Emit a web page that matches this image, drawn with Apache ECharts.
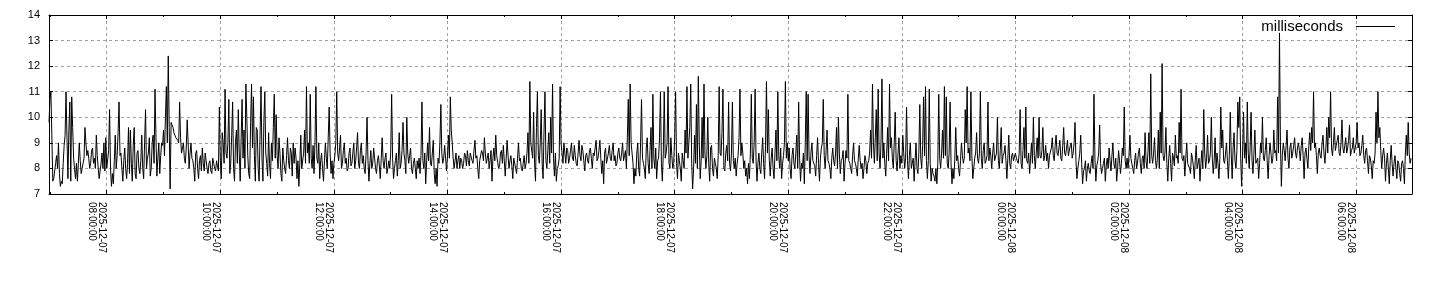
<!DOCTYPE html>
<html><head><meta charset="utf-8">
<script src="https://cdn.jsdelivr.net/npm/echarts@6/dist/echarts.min.js"></script>
<style>html,body{margin:0;padding:0;background:#fff}#c{width:1440px;height:300px}</style>
</head><body><div id="c"></div>
<script>
const seriesName = 'milliseconds';
const startHour = 6 + 59 / 60;   // 2025-12-07 06:59
const stepMinutes = 1;
const spanHours = 24;
const xTickLabels = [
  '2025-12-07\n08:00:00','2025-12-07\n10:00:00','2025-12-07\n12:00:00','2025-12-07\n14:00:00',
  '2025-12-07\n16:00:00','2025-12-07\n18:00:00','2025-12-07\n20:00:00','2025-12-07\n22:00:00',
  '2025-12-08\n00:00:00','2025-12-08\n02:00:00','2025-12-08\n04:00:00','2025-12-08\n06:00:00'
];
const yMin = 7, yMax = 14;

// values per hour: even minutes (hN) and odd minutes (oN)
const h0 = [9.8, 11.0, 7.5, 7.9, 8.5, 9.0, 7.3, 7.4, 8.9, 11.0, 7.6, 10.6, 10.8, 8.4, 7.6, 7.5, 9.0, 7.8, 8.0, 9.6, 8.5, 8.4, 8.2, 8.8, 8.4, 9.3, 8.0, 7.6, 8.6, 9.0];
const o0 = [10.7, 9.3, 7.6, 8.2, 8.0, 7.8, 7.5, 8.2, 9.3, 9.2, 9.5, 7.5, 9.6, 8.0, 8.2, 8.2, 8.3, 8.0, 8.4, 9.0, 8.7, 8.0, 8.7, 8.2, 8.0, 8.5, 7.6, 8.2, 8.0, 7.9];
const h1 = [9.2, 8.0, 10.3, 7.3, 7.4, 9.3, 8.5, 10.6, 8.6, 7.5, 8.8, 7.6, 9.6, 9.5, 7.5, 9.6, 7.6, 8.7, 7.8, 9.3, 7.6, 10.3, 8.4, 9.2, 8.0, 9.3, 11.1, 7.7, 9.0, 8.5];
const o1 = [8.0, 8.7, 8.0, 7.8, 8.3, 8.0, 9.4, 8.5, 8.0, 8.3, 8.0, 8.2, 7.8, 8.2, 8.9, 7.8, 8.6, 8.0, 8.3, 8.0, 9.0, 8.0, 8.6, 7.7, 9.0, 8.2, 9.2, 8.4, 7.8, 9.0];
const h2 = [8.9, 8.5, 11.2, 12.4, 7.2, 9.7, 9.4, 9.2, 9.1, 10.6, 8.6, 9.0, 8.2, 9.9, 8.0, 9.0, 8.3, 7.5, 8.7, 7.6, 8.5, 8.8, 7.9, 8.6, 7.8, 8.3, 7.8, 8.2, 7.9, 8.1];
const o2 = [9.5, 10.0, 9.0, 9.6, 9.8, 9.6, 9.3, 9.2, 9.0, 9.2, 8.8, 8.4, 8.8, 9.0, 8.6, 8.4, 8.0, 8.6, 8.0, 8.3, 7.9, 8.2, 8.6, 8.0, 8.2, 7.9, 8.4, 8.0, 8.3, 7.9];
const h3 = [10.4, 7.6, 9.0, 11.1, 8.4, 10.7, 8.2, 10.6, 7.5, 9.5, 10.3, 7.5, 10.7, 9.5, 11.3, 8.5, 7.6, 11.3, 10.8, 7.5, 9.5, 7.5, 11.2, 7.5, 11.0, 8.2, 9.4, 7.6, 8.3, 10.9];
const o3 = [8.3, 9.4, 8.2, 8.6, 9.0, 7.8, 9.3, 8.0, 9.0, 8.2, 8.6, 9.2, 8.4, 8.0, 10.0, 7.8, 9.8, 8.8, 8.5, 9.6, 8.0, 9.3, 8.4, 9.8, 8.6, 7.7, 8.2, 9.0, 9.6, 8.4];
const h4 = [10.1, 8.0, 8.6, 7.5, 8.3, 7.8, 9.2, 8.0, 8.6, 9.0, 8.8, 7.6, 7.3, 9.3, 8.0, 9.5, 11.2, 9.0, 10.9, 8.0, 7.8, 11.2, 8.2, 7.6, 8.6, 7.5, 9.0, 8.0, 10.4, 7.8];
const o4 = [8.5, 9.2, 7.8, 8.8, 8.0, 8.5, 8.3, 8.8, 7.7, 8.2, 8.4, 8.3, 8.2, 8.0, 8.6, 8.2, 8.6, 8.2, 8.4, 8.9, 9.0, 8.4, 9.0, 8.3, 8.0, 8.3, 8.4, 9.2, 8.6, 8.3];
const h5 = [7.6, 8.5, 11.0, 8.3, 9.3, 8.2, 9.0, 8.4, 8.0, 8.8, 8.2, 9.0, 8.3, 9.4, 8.0, 9.0, 8.5, 7.8, 10.0, 7.5, 8.7, 8.2, 8.4, 7.8, 8.5, 7.6, 9.2, 8.0, 8.6, 8.0];
const o5 = [8.2, 9.0, 8.6, 8.8, 8.0, 8.7, 8.2, 7.9, 8.6, 8.1, 8.6, 8.0, 8.8, 8.2, 8.7, 8.2, 8.0, 8.6, 8.3, 8.2, 8.0, 8.8, 8.0, 8.3, 8.1, 8.4, 8.3, 8.4, 7.8, 8.3];
const h6 = [8.0, 10.9, 7.6, 8.3, 7.7, 9.4, 8.2, 9.8, 8.3, 10.0, 8.2, 8.8, 7.8, 8.4, 7.6, 8.0, 7.8, 10.6, 8.0, 7.4, 9.0, 9.6, 8.1, 9.1, 7.4, 7.3, 8.2, 10.5, 8.2, 8.9];
const o6 = [8.6, 8.4, 8.0, 8.6, 8.3, 8.0, 8.7, 8.6, 7.8, 8.6, 8.5, 8.0, 8.2, 8.0, 8.3, 8.4, 8.5, 8.3, 8.6, 8.3, 8.3, 8.2, 8.6, 7.8, 8.0, 8.4, 9.0, 8.6, 8.4, 8.4];
const h7 = [7.9, 9.3, 10.8, 9.0, 8.0, 8.6, 8.3, 8.0, 8.3, 8.2, 8.5, 8.7, 8.1, 8.6, 8.2, 9.1, 8.5, 7.6, 8.3, 8.6, 9.2, 8.2, 8.6, 8.3, 7.5, 8.8, 9.3, 8.5, 8.1, 8.7];
const o7 = [8.5, 8.4, 9.5, 8.4, 8.3, 8.0, 8.5, 8.4, 8.0, 8.6, 8.1, 8.3, 8.6, 8.3, 8.7, 8.4, 8.0, 8.3, 8.7, 8.3, 8.6, 8.4, 8.0, 8.7, 8.4, 8.3, 8.5, 8.0, 8.6, 8.2];
const h8 = [8.9, 7.7, 9.1, 8.0, 8.5, 7.6, 8.2, 7.8, 9.0, 8.4, 7.9, 8.5, 8.2, 9.4, 11.4, 9.0, 10.2, 7.5, 11.0, 8.2, 10.3, 7.6, 11.0, 8.0, 9.4, 10.0, 11.3, 7.7, 7.5, 8.1];
const o8 = [8.3, 8.4, 8.5, 8.3, 8.1, 8.4, 8.0, 8.4, 8.3, 8.0, 8.2, 8.0, 8.6, 8.2, 9.0, 8.4, 8.2, 9.6, 8.5, 9.0, 8.2, 9.5, 8.3, 8.7, 8.2, 8.6, 8.4, 8.6, 8.0, 8.4];
const h9 = [11.2, 8.6, 9.0, 8.2, 8.7, 8.4, 9.0, 8.3, 8.5, 8.1, 9.1, 8.3, 8.7, 7.9, 8.6, 8.2, 8.8, 8.0, 8.5, 9.1, 8.4, 9.1, 7.8, 7.4, 8.8, 8.2, 8.9, 8.3, 9.0, 8.5];
const o9 = [9.0, 8.2, 8.6, 8.8, 8.2, 8.7, 8.4, 8.9, 8.2, 8.6, 8.5, 8.9, 8.3, 8.5, 8.3, 8.7, 8.4, 8.6, 8.8, 8.3, 8.7, 8.4, 8.3, 8.6, 8.2, 8.6, 8.4, 8.7, 8.3, 8.1];
const h10 = [8.2, 8.8, 8.3, 9.0, 8.5, 8.0, 10.7, 11.3, 9.0, 7.4, 7.7, 9.0, 7.7, 10.7, 8.2, 7.6, 9.2, 7.8, 9.6, 10.9, 8.0, 7.6, 8.4, 11.0, 7.5, 11.0, 8.6, 11.2, 8.0, 8.5];
const o10 = [8.6, 8.4, 8.6, 8.3, 8.7, 9.2, 8.5, 9.0, 8.2, 8.0, 8.6, 8.0, 9.0, 8.4, 8.0, 8.8, 8.2, 8.7, 8.0, 8.4, 8.8, 8.3, 9.2, 8.2, 8.6, 8.4, 9.0, 8.2, 9.2, 8.0];
const h11 = [8.2, 11.0, 7.6, 8.3, 7.5, 8.3, 9.5, 11.2, 9.0, 11.3, 7.2, 9.3, 10.5, 11.6, 7.6, 10.0, 11.3, 8.0, 10.0, 7.5, 8.9, 7.7, 8.2, 7.6, 11.2, 8.5, 11.1, 7.9, 8.9, 10.6];
const o11 = [9.2, 8.2, 8.6, 8.0, 8.6, 8.0, 8.6, 8.4, 9.6, 8.2, 8.0, 8.2, 8.0, 9.0, 8.3, 8.4, 8.6, 8.5, 8.2, 8.8, 8.0, 8.4, 8.0, 8.5, 8.6, 9.4, 8.0, 8.6, 8.3, 8.2];
const h12 = [7.9, 10.6, 8.0, 7.7, 8.5, 11.1, 9.0, 8.0, 7.7, 7.4, 7.6, 10.9, 8.2, 11.1, 7.5, 8.6, 7.8, 9.2, 7.6, 11.4, 10.3, 7.7, 8.8, 7.6, 9.5, 11.0, 8.0, 7.6, 8.5, 11.4];
const o12 = [8.6, 8.3, 8.4, 8.2, 9.2, 8.5, 8.6, 8.3, 8.0, 8.2, 8.6, 8.4, 9.0, 8.3, 8.2, 8.0, 8.6, 8.2, 8.9, 8.6, 8.3, 8.4, 8.0, 8.6, 8.3, 8.5, 8.8, 8.2, 9.0, 8.4];
const h13 = [9.0, 8.8, 7.6, 8.8, 8.0, 9.3, 10.6, 7.5, 8.0, 7.4, 11.0, 10.9, 7.8, 9.0, 8.3, 7.7, 9.2, 7.5, 8.8, 10.7, 8.0, 9.5, 8.2, 7.6, 8.8, 8.1, 9.6, 10.0, 7.8, 8.4];
const o13 = [8.3, 8.0, 8.5, 8.2, 8.6, 8.0, 8.4, 8.2, 8.6, 9.0, 8.3, 8.5, 8.6, 8.3, 8.1, 8.5, 8.2, 8.4, 9.0, 8.5, 8.7, 8.3, 8.0, 8.4, 8.3, 8.6, 8.0, 8.6, 8.3, 8.7];
const h14 = [7.5, 8.7, 10.9, 8.2, 7.8, 9.0, 8.2, 7.7, 8.9, 8.0, 7.6, 8.5, 7.8, 8.3, 9.5, 11.3, 8.2, 10.3, 11.1, 8.0, 11.5, 9.0, 7.7, 9.6, 11.3, 9.2, 8.0, 10.2, 7.9, 9.2];
const o14 = [8.2, 8.4, 8.3, 8.0, 8.5, 8.3, 8.0, 8.4, 8.3, 8.2, 8.0, 8.3, 8.2, 8.6, 8.4, 9.0, 9.2, 8.3, 8.6, 9.0, 8.4, 8.2, 8.6, 8.3, 8.8, 8.4, 9.0, 8.3, 8.6, 8.0];
const h15 = [8.5, 9.3, 8.0, 10.4, 7.6, 9.0, 8.2, 7.5, 9.0, 7.8, 10.5, 8.0, 10.8, 11.2, 7.6, 11.1, 7.5, 7.8, 7.5, 7.4, 10.9, 8.0, 9.5, 11.2, 10.8, 8.0, 10.6, 7.4, 7.6, 9.6];
const o15 = [8.2, 8.6, 8.4, 8.3, 8.5, 8.0, 8.4, 8.3, 8.0, 8.6, 8.4, 8.9, 8.5, 8.3, 8.3, 8.2, 8.0, 7.7, 8.0, 8.2, 8.4, 8.6, 8.4, 8.5, 8.2, 8.6, 8.2, 8.0, 8.4, 8.3];
const h16 = [8.5, 7.7, 9.0, 8.2, 10.3, 11.2, 8.8, 11.0, 7.6, 8.4, 9.4, 8.2, 11.0, 8.0, 9.0, 8.3, 10.6, 8.8, 8.0, 9.0, 8.3, 10.0, 8.0, 9.6, 8.5, 8.9, 7.6, 9.3, 8.0, 8.6];
const o16 = [8.0, 8.3, 8.5, 8.4, 9.0, 8.6, 8.3, 8.5, 8.0, 8.6, 8.4, 8.6, 8.4, 8.7, 8.2, 8.5, 8.3, 8.5, 8.6, 8.3, 8.6, 8.3, 8.7, 8.2, 8.6, 8.3, 8.4, 8.2, 8.5, 8.3];
const h17 = [8.3, 8.4, 8.2, 10.3, 8.0, 9.6, 10.4, 8.2, 7.8, 9.0, 10.0, 8.0, 9.2, 10.0, 8.4, 9.6, 8.5, 8.3, 8.0, 8.5, 9.2, 8.3, 9.3, 8.5, 9.1, 8.3, 9.6, 8.5, 9.1, 8.7];
const o17 = [8.6, 8.3, 8.6, 8.2, 8.7, 8.4, 8.3, 8.6, 8.4, 8.2, 8.5, 8.6, 8.4, 8.5, 8.7, 8.3, 8.9, 8.6, 8.5, 8.8, 8.5, 8.9, 8.6, 8.8, 8.4, 8.9, 8.6, 8.8, 8.5, 8.9];
const h18 = [9.0, 8.6, 9.8, 7.6, 8.3, 9.3, 7.4, 8.0, 7.5, 8.2, 7.8, 8.5, 10.9, 7.5, 8.3, 9.7, 7.8, 8.2, 7.5, 8.4, 8.8, 7.9, 9.0, 8.0, 7.5, 8.7, 7.8, 8.8, 10.4, 8.0];
const o18 = [8.4, 9.0, 8.3, 8.0, 8.6, 8.2, 7.9, 8.3, 8.0, 7.9, 8.2, 8.0, 8.4, 8.1, 8.6, 8.2, 8.0, 8.4, 8.1, 8.0, 8.3, 8.5, 8.2, 8.4, 8.0, 8.3, 8.2, 8.5, 8.3, 8.4];
const h19 = [8.0, 9.3, 8.2, 7.8, 8.6, 8.2, 8.8, 7.8, 8.5, 9.4, 8.0, 9.4, 11.7, 8.2, 9.2, 8.0, 9.5, 10.2, 12.1, 8.3, 9.6, 7.5, 8.9, 7.5, 8.4, 9.3, 8.5, 9.8, 11.1, 8.3];
const o19 = [8.5, 8.4, 8.0, 8.3, 8.0, 8.6, 8.2, 8.4, 8.0, 8.3, 8.6, 8.2, 8.5, 8.6, 8.3, 8.4, 8.0, 8.6, 8.5, 8.6, 8.2, 8.4, 8.2, 8.6, 8.1, 8.4, 8.2, 8.6, 8.4, 8.5];
const h20 = [7.7, 9.0, 8.2, 7.8, 8.4, 7.6, 8.9, 8.0, 7.5, 8.7, 10.3, 8.0, 9.3, 8.3, 10.0, 7.8, 9.2, 8.6, 7.6, 10.4, 9.5, 8.2, 9.0, 7.6, 10.2, 7.6, 9.4, 8.0, 10.6, 10.8];
const o20 = [8.4, 8.2, 8.0, 8.6, 8.1, 8.3, 8.0, 8.4, 8.2, 8.0, 8.6, 8.4, 8.2, 8.6, 8.4, 8.3, 8.0, 8.2, 8.4, 8.8, 8.3, 8.6, 8.3, 8.5, 8.6, 8.8, 8.3, 8.7, 9.6, 8.4];
const h21 = [7.3, 10.2, 9.0, 10.6, 8.0, 10.2, 7.8, 9.5, 8.2, 7.6, 9.0, 10.0, 8.3, 9.2, 7.6, 9.0, 8.2, 9.5, 8.7, 10.8, 13.3, 7.3, 9.0, 8.3, 9.5, 8.0, 9.0, 8.6, 9.2, 8.4];
const o21 = [8.6, 8.4, 8.2, 8.6, 8.8, 8.3, 8.6, 8.2, 8.4, 8.2, 8.6, 8.4, 8.7, 8.3, 8.5, 8.6, 8.4, 8.6, 8.3, 8.6, 9.0, 8.5, 8.7, 8.9, 8.4, 8.8, 8.4, 8.9, 8.6, 8.8];
const h22 = [9.0, 8.3, 9.2, 7.6, 8.8, 8.0, 9.4, 9.6, 11.0, 9.0, 7.8, 8.8, 8.4, 9.3, 8.2, 9.6, 10.0, 11.0, 8.5, 9.6, 8.9, 9.3, 8.5, 9.9, 8.6, 9.2, 8.8, 9.7, 8.7, 9.2];
const o22 = [8.7, 8.9, 8.5, 8.6, 8.4, 8.9, 8.7, 9.0, 8.8, 8.5, 8.6, 8.5, 9.0, 8.6, 8.8, 8.6, 9.2, 8.8, 9.0, 8.7, 9.1, 8.6, 9.0, 8.8, 8.9, 8.6, 9.1, 8.5, 8.8, 8.6];
const h23 = [8.6, 9.8, 9.0, 8.6, 9.3, 8.2, 8.8, 7.8, 8.4, 7.6, 8.2, 10.2, 11.0, 9.6, 8.0, 8.8, 7.5, 8.6, 7.4, 8.9, 7.7, 8.5, 7.6, 8.2, 7.5, 8.3, 7.4, 9.3, 9.8, 8.2];
const o23 = [9.0, 8.8, 8.5, 8.9, 8.5, 8.7, 8.3, 8.5, 8.1, 8.3, 8.6, 9.0, 9.2, 8.7, 8.5, 8.4, 8.2, 8.0, 8.3, 8.2, 8.2, 8.0, 8.3, 7.8, 8.2, 8.0, 8.6, 8.5, 8.6, 8.4];

const evenHours = [h0,h1,h2,h3,h4,h5,h6,h7,h8,h9,h10,h11,h12,h13,h14,h15,h16,h17,h18,h19,h20,h21,h22,h23];
const oddHours  = [o0,o1,o2,o3,o4,o5,o6,o7,o8,o9,o10,o11,o12,o13,o14,o15,o16,o17,o18,o19,o20,o21,o22,o23];
const values = [];
evenHours.forEach((hr, k) => hr.forEach((v, j) => { values.push(v, oddHours[k][j]); }));
const data = values.map((v, i) => [startHour + i * stepMinutes / 60, v]);
const xMin = startHour, xMax = startHour + spanHours;

const FONT = 'Liberation Sans';
function xLabel(v) {
  const k = Math.round((v - 8) / 2);
  if (Math.abs(v - (8 + 2 * k)) > 1e-6 || k < 0 || k >= xTickLabels.length) return '';
  return xTickLabels[k];
}
const frame = { show: true, onZero: false, lineStyle: { color: '#000', width: 1 } };
const tick = { show: true, inside: true, length: 4, lineStyle: { color: '#000', width: 1 } };
const minor = { show: true, splitNumber: 2, length: 2, lineStyle: { color: '#000', width: 1 } };
const grid = { show: true, showMinLine: false, showMaxLine: false, lineStyle: { color: '#a0a0a0', width: 1, type: [3, 3] } };

const chart = echarts.init(document.getElementById('c'), null, { renderer: 'canvas' });
chart.setOption({
  animation: false,
  backgroundColor: '#fff',
  textStyle: { fontFamily: FONT },
  grid: { left: 49, right: 28, top: 15, bottom: 106, containLabel: false },
  legend: {
    data: [{ name: seriesName, icon: 'rect' }], right: 45, top: 19, padding: 0, align: 'right',
    itemWidth: 39, itemHeight: 1,
    itemStyle: { color: '#000', borderWidth: 0 },
    textStyle: { fontFamily: FONT, fontSize: 15, lineHeight: 15, color: '#000', padding: [0, 8, 0, 0] }
  },
  xAxis: [
    { type: 'value', position: 'bottom', min: xMin, max: xMax, splitNumber: 12,
      axisLine: frame, axisTick: tick, minorTick: minor, splitLine: grid,
      axisLabel: { show: true, rotate: -90, align: 'left', verticalAlign: 'top', margin: 8,
        fontFamily: FONT, fontSize: 10, lineHeight: 10, color: '#000',
        showMinLabel: false, showMaxLabel: false, formatter: xLabel } },
    { type: 'value', position: 'top', min: xMin, max: xMax, splitNumber: 12,
      axisLine: frame, axisTick: tick, minorTick: minor, splitLine: { show: false },
      axisLabel: { show: false } }
  ],
  yAxis: [
    { type: 'value', position: 'left', min: yMin, max: yMax, interval: 1,
      axisLine: frame, axisTick: tick, splitLine: grid,
      axisLabel: { fontFamily: FONT, fontSize: 11, color: '#000', margin: 9 } },
    { type: 'value', position: 'right', min: yMin, max: yMax, interval: 1,
      axisLine: frame, axisTick: tick, splitLine: { show: false }, axisLabel: { show: false } }
  ],
  series: [{
    name: seriesName, type: 'line', data: data, xAxisIndex: 0, yAxisIndex: 0,
    symbol: 'none', showSymbol: false, sampling: null,
    lineStyle: { color: '#000', width: 1 }, itemStyle: { color: '#000' }
  }]
});
</script></body></html>
